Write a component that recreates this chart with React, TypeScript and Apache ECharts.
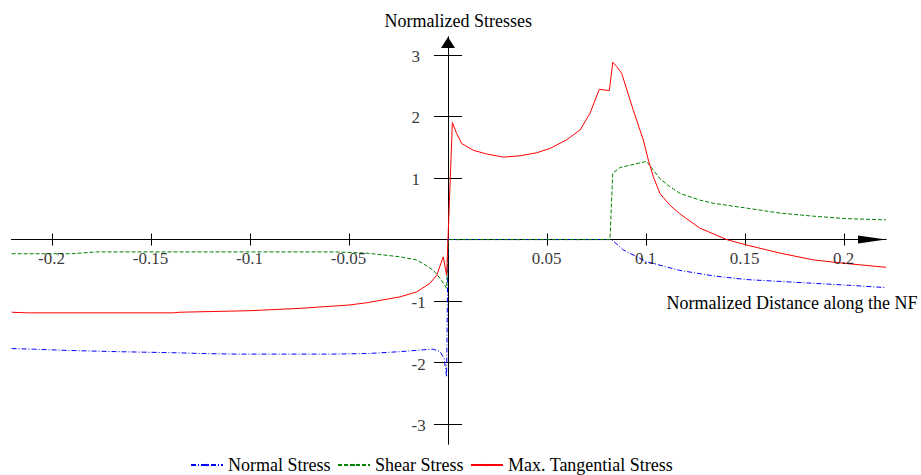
import React, { useEffect, useRef } from "react";
import * as echarts from "echarts";

// ---- data (x = normalized distance along the NF, y = normalized stress) ----
const seriesNames = ["Normal Stress", "Shear Stress", "Max. Tangential Stress"];

const normalStress: [number, number][] = [
  [-0.2204, -1.77], [-0.2094, -1.78], [-0.1926, -1.80], [-0.1675, -1.82], [-0.1354, -1.84],
  [-0.1253, -1.85], [-0.108, -1.86], [-0.058, -1.86], [-0.04, -1.85], [-0.0242, -1.82],
  [-0.0125, -1.79], [-0.0074, -1.78], [-0.004, -1.82], [-0.002, -1.93], [-0.0007, -2.23],
  [0.0, 0], [0.0826, 0], [0.0886, -0.17], [0.1003, -0.36], [0.117, -0.5], [0.134, -0.59],
  [0.151, -0.65], [0.1677, -0.68], [0.1845, -0.71], [0.2014, -0.74], [0.2212, -0.78],
];

const shearStress: [number, number][] = [
  [-0.2204, -0.23], [-0.19, -0.23], [-0.1775, -0.2], [-0.12, -0.2], [-0.0575, -0.2],
  [-0.041, -0.22], [-0.0242, -0.28], [-0.016, -0.33], [-0.0125, -0.39], [-0.0074, -0.5],
  [-0.004, -0.63], [-0.0007, -0.79], [0.0002, 0], [0.0818, 0], [0.0832, 1.08], [0.0869, 1.17],
  [0.1003, 1.27], [0.107, 0.99], [0.112, 0.86], [0.1172, 0.75], [0.1273, 0.64], [0.134, 0.59],
  [0.151, 0.51], [0.1677, 0.43], [0.1845, 0.38], [0.2014, 0.34], [0.2212, 0.32],
];

const tangentialStress: [number, number][] = [
  [-0.2204, -1.18], [-0.2124, -1.19], [-0.1388, -1.19], [-0.1354, -1.18], [-0.1, -1.155],
  [-0.0747, -1.117], [-0.05, -1.063], [-0.041, -1.026], [-0.0242, -0.93], [-0.0158, -0.85],
  [-0.0091, -0.71], [-0.0057, -0.58], [-0.0024, -0.28], [-0.0007, -0.58], [0.0022, 1.9],
  [0.0044, 1.72], [0.0069, 1.56], [0.0128, 1.45], [0.0195, 1.39], [0.028, 1.34], [0.0364, 1.36],
  [0.0448, 1.41], [0.0515, 1.48], [0.0599, 1.62], [0.0667, 1.78], [0.0717, 2.05], [0.0764, 2.44],
  [0.0815, 2.42], [0.0832, 2.88], [0.0852, 2.81], [0.0877, 2.7], [0.0936, 2.1], [0.0986, 1.62],
  [0.1012, 1.29], [0.1037, 1.02], [0.107, 0.75], [0.112, 0.56], [0.117, 0.42], [0.127, 0.19],
  [0.1407, 0.0], [0.151, -0.09], [0.1677, -0.22], [0.1845, -0.33], [0.2014, -0.39], [0.2212, -0.45],
];

const xTickValues = [-0.2, -0.15, -0.1, -0.05, 0.05, 0.1, 0.15, 0.2];
const yTickValues = [-3, -2, -1, 1, 2, 3];
const xRange = [-0.2204, 0.2212];
const yRange = [-3.32, 3.29];

const titleText = "Normalized Stresses";
const xAxisName = "Normalized Distance along the NF";

const FONT = "Liberation Serif";
const colors = ["#0000ff", "#008000", "#ff0000"];
const dashes: any[] = [[5, 2, 1, 2], [4, 2], "solid"];

export default function App() {
  const ref = useRef<HTMLDivElement>(null);

  useEffect(() => {
    if (!ref.current) return;
    const chart = echarts.init(ref.current, null, { renderer: "svg" });

    const lineStyle = { color: "#000", width: 1 };
    const allData = [normalStress, shearStress, tangentialStress];

    const lineSeries = allData.map((d, i) => ({
      name: seriesNames[i],
      type: "line",
      xAxisIndex: 0,
      yAxisIndex: 0,
      data: d,
      symbol: "circle",
      showSymbol: false,
      color: colors[i],
      itemStyle: { color: colors[i] },
      lineStyle: { color: colors[i], width: 1, type: dashes[i] },
      z: 3,
    }));

    // tick labels placed next to the zero-crossing axes through the axes' own scales
    const xLabelSeries = {
      type: "scatter",
      name: "xTickLabels",
      xAxisIndex: 0,
      yAxisIndex: 0,
      data: xTickValues.map((v) => [v, 0]),
      symbol: "circle",
      symbolSize: 1,
      itemStyle: { color: "rgba(0,0,0,0)" },
      silent: true,
      z: 4,
      label: {
        show: true,
        position: [0, 11],
        align: "center",
        verticalAlign: "top",
        color: "#000",
        fontFamily: FONT,
        fontSize: 17,
        formatter: (p: any) => String(p.value[0]),
      },
      emphasis: { disabled: true },
    };

    const yLabelSeries = {
      type: "scatter",
      name: "yTickLabels",
      xAxisIndex: 0,
      yAxisIndex: 0,
      data: yTickValues.map((v) => [0, v]),
      symbol: "circle",
      symbolSize: 1,
      itemStyle: { color: "rgba(0,0,0,0)" },
      silent: true,
      z: 4,
      label: {
        show: true,
        position: [-36, 2],
        align: "left",
        verticalAlign: "middle",
        color: "#000",
        fontFamily: FONT,
        fontSize: 17,
        formatter: (p: any) => String(p.value[1]),
      },
      emphasis: { disabled: true },
    };

    chart.setOption({
      animation: false,
      backgroundColor: "#fff",
      textStyle: { fontFamily: FONT, color: "#000" },
      grid: { left: 11.6, right: 35, top: 37, bottom: 31, containLabel: false, outerBoundsMode: "none" },
      xAxis: [
        {
          type: "value",
          min: xRange[0],
          max: xRange[1],
          position: "bottom",
          axisLine: {
            onZero: true,
            onZeroAxisIndex: 0,
            lineStyle,
            symbol: ["none", "triangle"],
            symbolSize: [8, 28],
            symbolOffset: [0, -14],
          },
          axisTick: { show: true, inside: false, length: 6, lineStyle, customValues: xTickValues },
          axisLabel: { show: false },
          splitLine: { show: false },
        },
        {
          type: "value",
          min: xRange[0],
          max: xRange[1],
          position: "top",
          axisLine: { onZero: true, onZeroAxisIndex: 0, lineStyle },
          axisTick: { show: true, inside: false, length: 6, lineStyle, customValues: xTickValues },
          axisLabel: { show: false },
          splitLine: { show: false },
        },
      ],
      yAxis: [
        {
          type: "value",
          min: yRange[0],
          max: yRange[1],
          position: "left",
          axisLine: {
            onZero: true,
            onZeroAxisIndex: 0,
            lineStyle,
            symbol: ["none", "triangle"],
            symbolSize: [14, 11],
            symbolOffset: [0, -5.5],
          },
          axisTick: { show: true, inside: false, length: 14, lineStyle, customValues: yTickValues },
          axisLabel: { show: false },
          splitLine: { show: false },
        },
        {
          type: "value",
          min: yRange[0],
          max: yRange[1],
          position: "right",
          axisLine: { onZero: true, onZeroAxisIndex: 0, lineStyle },
          axisTick: { show: true, inside: false, length: 14, lineStyle, customValues: yTickValues },
          axisLabel: { show: false },
          splitLine: { show: false },
        },
      ],
      legend: {
        left: 190,
        top: 456,
        padding: 0,
        itemWidth: 32,
        itemHeight: 3,
        itemGap: 6.5,
        textStyle: { color: "#000", fontFamily: FONT, fontSize: 18 },
        data: seriesNames,
      },
      graphic: [
        {
          type: "text",
          x: 384.5,
          y: 20.5,
          style: { text: titleText, fontFamily: FONT, fontSize: 18, fill: "#000", verticalAlign: "middle", align: "left" },
        },
        {
          type: "text",
          x: 666.5,
          y: 303,
          style: { text: xAxisName, fontFamily: FONT, fontSize: 18, fill: "#000", verticalAlign: "middle", align: "left" },
        },
      ],
      series: [...lineSeries, xLabelSeries, yLabelSeries],
    });

    return () => chart.dispose();
  }, []);

  return (
    <div
      ref={ref}
      style={{ position: "absolute", left: 0, top: 0, width: 921, height: 475 }}
    />
  );
}
